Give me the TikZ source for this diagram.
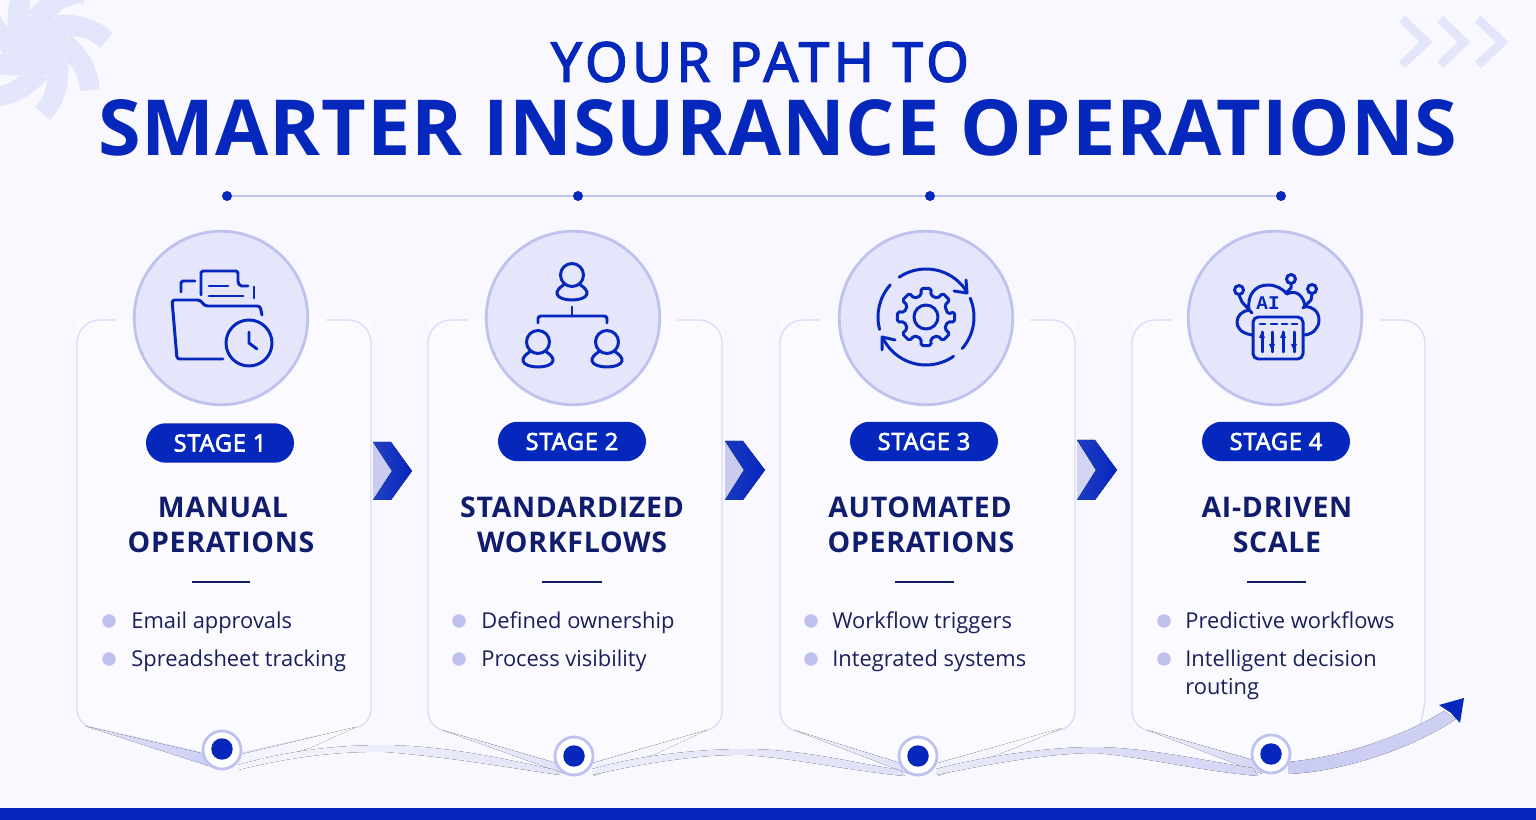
\documentclass[tikz,border=0pt]{standalone}
\usepackage{fontspec}
\usetikzlibrary{shapes.misc}
\setmainfont{Open Sans}
\newfontfamily\iconfont{Liberation Mono}
\definecolor{pagebg}{HTML}{F8F8FE}
\definecolor{cardbg}{HTML}{FBFBFF}
\definecolor{royal}{HTML}{0527BC}
\definecolor{navy}{HTML}{101C6C}
\definecolor{inkblue}{HTML}{1A1F5A}
\definecolor{lav}{HTML}{BFC2EF}
\definecolor{lavline}{HTML}{DADBF6}
\definecolor{lavfill}{HTML}{E5E6FC}
\definecolor{ghost}{HTML}{E3E5FB}
\newcommand{\bladepath}{(16,-30) .. controls (40,-32) and (60,-26) .. (75,-12) -- (62,3) .. controls (50,-8) and (40,-10) .. (25,-8) -- cycle}
\tikzset{
  bigcircle/.style={circle,draw=lav,fill=lavfill,line width=1.6pt,minimum size=3.47cm,inner sep=0pt},
  ringnode/.style={circle,draw=lav,fill=white,line width=1.6pt,minimum size=.76cm,inner sep=0pt},
  dotnode/.style={circle,fill=royal,minimum size=.43cm,inner sep=0pt},
  topdot/.style={circle,fill=royal,minimum size=.2cm,inner sep=0pt},
  pillnode/.style={rounded rectangle,fill=royal,text=white,minimum width=2.96cm,minimum height=.79cm,inner sep=0pt,font=\fontsize{13.4}{15}\selectfont\addfontfeature{FakeBold=3,LetterSpace=3.5}},
  headnode/.style={text=navy,inner sep=0pt,font=\fontsize{16.2}{19}\selectfont\bfseries\addfontfeature{LetterSpace=2.5}},
  itemnode/.style={text=inkblue,anchor=west,inner sep=0pt,text height=11pt,text depth=2pt,font=\fontsize{12.45}{16}\selectfont},
  bulletnode/.style={circle,fill=lav,minimum size=.27cm,inner sep=0pt},
  cardline/.style={draw=lavline,line width=.75pt},
  sepline/.style={draw=navy,line width=.6pt},
  iconline/.style={draw=royal,line width=1.7pt,line join=round,line cap=round},
  ghostline/.style={draw=ghost,line width=5pt,line join=miter},
  person/.pic={
    \draw[iconline] (0,0) circle[radius=11.5];
    \draw[iconline] (-7,9) .. controls (-12,12) and (-16,16) .. (-15,19) .. controls (-13,27) and (13,27) .. (15,19) .. controls (16,16) and (12,12) .. (7,9);
  }
}
\begin{document}
\begin{tikzpicture}[x=.02cm,y=-.02cm]
\useasboundingbox (0,0) rectangle (1536,820);
\fill[pagebg] (0,0) rectangle (1536,820);
\begin{scope}
\clip (0,0) rectangle (1536,820);
\fill[ghost] (38,45) circle[radius=31];
\fill[ghost,rotate around={0:(38,45)},shift={(38,45)}] \bladepath;
\fill[ghost,rotate around={45:(38,45)},shift={(38,45)}] \bladepath;
\fill[ghost,rotate around={90:(38,45)},shift={(38,45)}] \bladepath;
\fill[ghost,rotate around={135:(38,45)},shift={(38,45)}] \bladepath;
\fill[ghost,rotate around={180:(38,45)},shift={(38,45)}] \bladepath;
\fill[ghost,rotate around={225:(38,45)},shift={(38,45)}] \bladepath;
\fill[ghost,rotate around={270:(38,45)},shift={(38,45)}] \bladepath;
\fill[ghost,rotate around={315:(38,45)},shift={(38,45)}] \bladepath;
\end{scope}
\draw[ghostline] (1402,19) -- (1426,42) -- (1402,65);
\draw[ghostline] (1440,19) -- (1464,42) -- (1440,65);
\draw[ghostline] (1478,19) -- (1502,42) -- (1478,65);
\fill[royal] (0,808) rectangle (1536,820);

\node[inner sep=0pt,text=royal,font=\fontsize{31}{36}\selectfont\addfontfeature{FakeBold=3,LetterSpace=8.5}] (titletop) at (760,62) {YOUR PATH TO};
\node[inner sep=0pt,text=royal,font=\fontsize{44}{50}\selectfont\bfseries\addfontfeature{LetterSpace=1.1}] (titlemain) at (778,128) {SMARTER INSURANCE OPERATIONS};

\node[topdot] (top1) at (227,196) {};
\node[topdot] (top2) at (578,196) {};
\node[topdot] (top3) at (930,196) {};
\node[topdot] (top4) at (1281,196) {};
\draw[lav,line width=.8pt] (top1) -- (top2);
\draw[lav,line width=.8pt] (top2) -- (top3);
\draw[lav,line width=.8pt] (top3) -- (top4);

\fill[cardbg] (77,320) -- (371,320) -- (371,724) -- (222,760) -- (77,724) -- cycle;
\fill[cardbg] (428,320) -- (722,320) -- (722,726) -- (574,766) -- (428,726) -- cycle;
\fill[cardbg] (780,320) -- (1075,320) -- (1075,726) -- (918,766) -- (780,726) -- cycle;
\fill[cardbg] (1132,320) -- (1425,320) -- (1425,726) -- (1271,766) -- (1132,726) -- cycle;

\draw[cardline,rounded corners=13pt] (116,320) -- (77,320) [rounded corners=8pt] -- (77,724) -- (203,753);
\draw[cardline,rounded corners=13pt] (326,320) -- (371,320) [rounded corners=8pt] -- (371,724) -- (242,753);
\draw[cardline,rounded corners=13pt] (468,320) -- (428,320) [rounded corners=8pt] -- (428,726) -- (555,763);
\draw[cardline,rounded corners=13pt] (677,320) -- (722,320) [rounded corners=8pt] -- (722,726) -- (593,763);
\draw[cardline,rounded corners=13pt] (820,320) -- (780,320) [rounded corners=8pt] -- (780,726) -- (899,763);
\draw[cardline,rounded corners=13pt] (1030,320) -- (1075,320) [rounded corners=8pt] -- (1075,726) -- (938,763);
\draw[cardline,rounded corners=13pt] (1172,320) -- (1132,320) [rounded corners=8pt] -- (1132,726) -- (1253,760);
\draw[cardline,rounded corners=13pt] (1380,320) -- (1425,320) [rounded corners=8pt] -- (1425,710) -- (1418,730);

\fill[left color=lav!45,right color=lav!80] (85,726) -- (205,754) -- (215,768) -- cycle;
\fill[left color=lav!25,right color=lav!50] (442,730) -- (556,763) -- (565,774) -- cycle;
\fill[left color=lav!25,right color=lav!50] (794,730) -- (900,763) -- (909,774) -- cycle;
\fill[left color=lav!30,right color=lav!65] (1147,730) -- (1253,760) -- (1262,774) -- cycle;
\fill[left color=lav!22,right color=lav!6] (238,755) -- (356,727) -- (310,748) -- (238,770) -- cycle;
\fill[left color=lav!22,right color=lav!6] (593,763) -- (707,730) -- (660,752) -- (593,776) -- cycle;
\fill[left color=lav!22,right color=lav!6] (938,763) -- (1062,728) -- (1010,750) -- (938,776) -- cycle;

\fill[left color=lav!15,right color=lav!45] (238,765) .. controls (290,750) and (340,745) .. (385,745) .. controls (450,746) and (510,760) .. (556,770) -- (560,775) .. controls (510,768) and (450,757) .. (385,752) .. controls (340,751) and (290,757) .. (238,770) -- cycle;
\fill[left color=lav!30,right color=lav!50] (592,769) .. controls (640,755) and (700,749) .. (745,749) .. controls (800,749) and (850,762) .. (900,770) -- (905,776) .. controls (850,771) and (800,759) .. (745,755) .. controls (700,754) and (640,764) .. (592,775) -- cycle;
\fill[left color=lav!35,right color=lav!70] (936,769) .. controls (990,755) and (1050,747) .. (1096,747) .. controls (1150,748) and (1200,760) .. (1253,768) -- (1258,776) .. controls (1200,771) and (1150,758) .. (1096,753) .. controls (1050,753) and (990,764) .. (936,775) -- cycle;
\fill[left color=lav!85,right color=lav!75] (1288,762) .. controls (1340,757) and (1400,738) .. (1444,711) -- (1456,719) .. controls (1410,750) and (1340,772) .. (1288,774) -- cycle;
\fill[royal] (1464,698) -- (1439,705) -- (1451,713) -- (1460,723) -- cycle;

\node[ringnode] (ring1) at (222,750) {};
\node[ringnode] (ring2) at (574,756) {};
\node[ringnode] (ring3) at (918,756) {};
\node[ringnode] (ring4) at (1271,754) {};
\node[dotnode] (dot1) at (222,749) {};
\node[dotnode] (dot2) at (574,756) {};
\node[dotnode] (dot3) at (918,756) {};
\node[dotnode] (dot4) at (1271,754) {};

\node[bigcircle] (circle1) at (221,318) {};
\node[bigcircle] (circle2) at (573,318) {};
\node[bigcircle] (circle3) at (926,318) {};
\node[bigcircle] (circle4) at (1275,318) {};

\draw[iconline,rounded corners=1.5pt] (223,359) -- (177,359) -- (172,300) -- (200,300) -- (205,306) -- (260,306) -- (262,315);
\draw[iconline] (249,343) circle[radius=23];
\draw[iconline] (249,332) -- (249,343) -- (257,349);
\draw[iconline,rounded corners=1pt] (201,295) -- (201,271) -- (238,271) -- (238,283) -- (240,286) -- (248,286);
\draw[iconline,rounded corners=1pt] (181,292) -- (181,281) -- (195,281);
\draw[iconline] (254,287) -- (254,298);
\draw[iconline] (209,286) -- (228,286);
\draw[iconline] (209,296) -- (243,296);

\pic at (572,275) {person};
\pic at (538,342) {person};
\pic at (607,342) {person};
\draw[iconline] (572,307) -- (572,316);
\draw[iconline,rounded corners=1.5pt] (538,323) -- (538,316) -- (607,316) -- (607,323);

\begin{scope}[shift={(926,317)}]
\draw[iconline] (0,0) circle[radius=12];
\draw[iconline,rounded corners=1pt] (-8:22) -- (-10:29) -- (10:29) -- (13:22) -- (32:22) -- (35:29) -- (55:29) -- (58:22) -- (77:22) -- (80:29) -- (100:29) -- (103:22) -- (122:22) -- (125:29) -- (145:29) -- (148:22) -- (167:22) -- (170:29) -- (190:29) -- (193:22) -- (212:22) -- (215:29) -- (235:29) -- (238:22) -- (257:22) -- (260:29) -- (280:29) -- (283:22) -- (302:22) -- (305:29) -- (325:29) -- (328:22) -- cycle;
\draw[iconline] (-124:48) arc[start angle=-124,end angle=-31,radius=48];
\draw[iconline] (-23:48) arc[start angle=-23,end angle=41,radius=48];
\draw[iconline] (55:48) arc[start angle=55,end angle=155,radius=48];
\draw[iconline] (165:48) arc[start angle=165,end angle=222,radius=48];
\draw[iconline] (28,-26) -- (41,-24) -- (40,-37);
\draw[iconline] (-31,23) -- (-44,20) -- (-44,33);
\end{scope}

\draw[iconline] (1252,335) .. controls (1240,333) and (1237,327) .. (1237,322) .. controls (1237,316) and (1242,311) .. (1249,310) .. controls (1247,295) and (1255,285) .. (1268,285) .. controls (1276,285) and (1283,289) .. (1287,294) .. controls (1296,289) and (1304,296) .. (1305,307) .. controls (1313,306) and (1319,312) .. (1319,320) .. controls (1319,328) and (1313,334) .. (1305,335);
\draw[iconline,rounded corners=3pt] (1253,317) rectangle (1303,359);
\draw[iconline] (1260,324) -- (1265,324);
\draw[iconline] (1271,324) -- (1277,324);
\draw[iconline] (1282,324) -- (1287,324);
\draw[iconline] (1292,324) -- (1297,324);
\draw[iconline] (1262,332) -- (1262,352);
\draw[iconline] (1272,332) -- (1272,352);
\draw[iconline] (1283,332) -- (1283,352);
\draw[iconline] (1294,332) -- (1294,352);
\fill[royal] (1262,331) -- (1265,338) -- (1259,338) -- cycle;
\fill[royal] (1272,351) -- (1275,344) -- (1269,344) -- cycle;
\fill[royal] (1283,331) -- (1286,338) -- (1280,338) -- cycle;
\fill[royal] (1294,351) -- (1297,344) -- (1291,344) -- cycle;
\draw[iconline] (1239,290) circle[radius=4.5];
\draw[iconline] (1291,279) circle[radius=4.5];
\draw[iconline] (1312,289) circle[radius=4.5];
\draw[iconline] (1239,295) -- (1242,302) -- (1252,313);
\draw[iconline] (1291,284) -- (1291,288) -- (1286,293);
\draw[iconline] (1312,294) -- (1311,300) -- (1303,308);
\node[inner sep=0pt,text=royal,font=\fontsize{11}{12}\selectfont\iconfont\bfseries] (ailabel) at (1268,303) {AI};

\fill[lav!85] (373,442) -- (392,471) -- (373,500) -- cycle;
\fill[left color=royal!88,right color=royal] (373,442) -- (391,442) -- (412,471) -- (391,500) -- (373,500) -- (392,471) -- cycle;
\fill[lav!85] (725,441) -- (744,470) -- (725,500) -- cycle;
\fill[left color=royal!92,right color=royal] (725,441) -- (743,441) -- (765,470) -- (743,500) -- (725,500) -- (744,470) -- cycle;
\fill[lav!70] (1077,440) -- (1096,470) -- (1077,500) -- cycle;
\fill[left color=royal!90,right color=royal] (1077,440) -- (1095,440) -- (1117,470) -- (1095,500) -- (1077,500) -- (1096,470) -- cycle;

\node[pillnode] (pill1) at (220,443) {STAGE 1};
\node[pillnode] (pill2) at (572,441.5) {STAGE 2};
\node[pillnode] (pill3) at (924,441.5) {STAGE 3};
\node[pillnode] (pill4) at (1276,441.5) {STAGE 4};

\node[headnode] (head1a) at (223,507) {MANUAL};
\node[headnode] (head1b) at (221,542) {OPERATIONS};
\node[headnode] (head2a) at (572,507) {STANDARDIZED};
\node[headnode] (head2b) at (572,542) {WORKFLOWS};
\node[headnode] (head3a) at (920,507) {AUTOMATED};
\node[headnode] (head3b) at (921,542) {OPERATIONS};
\node[headnode] (head4a) at (1277,507) {AI-DRIVEN};
\node[headnode] (head4b) at (1277,542) {SCALE};

\draw[sepline] (192,582) -- (250,582);
\draw[sepline] (542,582) -- (602,582);
\draw[sepline] (895,582) -- (954,582);
\draw[sepline] (1247,582) -- (1306,582);

\node[bulletnode] (b1a) at (109,621) {};
\node[bulletnode] (b1b) at (109,659) {};
\node[bulletnode] (b2a) at (459,621) {};
\node[bulletnode] (b2b) at (459,659) {};
\node[bulletnode] (b3a) at (811,621) {};
\node[bulletnode] (b3b) at (811,659) {};
\node[bulletnode] (b4a) at (1164,621) {};
\node[bulletnode] (b4b) at (1164,659) {};
\node[itemnode] (t1a) at (131,621) {Email approvals};
\node[itemnode] (t1b) at (131,659) {Spreadsheet tracking};
\node[itemnode] (t2a) at (481,621) {Defined ownership};
\node[itemnode] (t2b) at (481,659) {Process visibility};
\node[itemnode] (t3a) at (832,621) {Workflow triggers};
\node[itemnode] (t3b) at (832,659) {Integrated systems};
\node[itemnode] (t4a) at (1185,621) {Predictive workflows};
\node[itemnode] (t4b) at (1185,659) {Intelligent decision};
\node[itemnode] (t4c) at (1185,687) {routing};
\end{tikzpicture}
\end{document}
